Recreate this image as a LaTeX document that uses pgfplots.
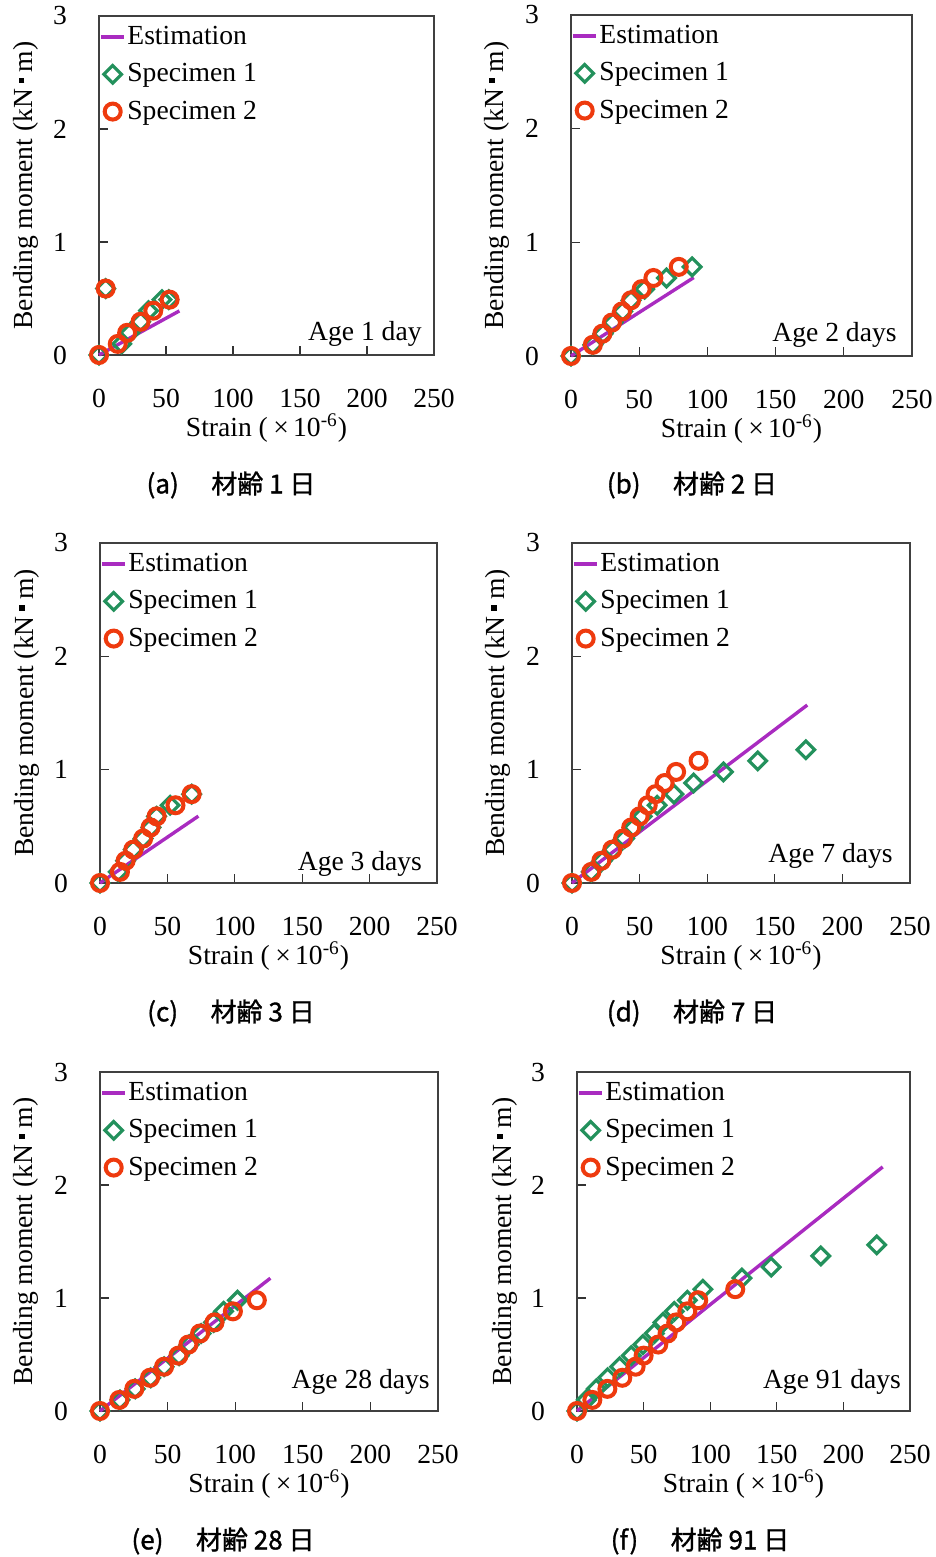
\documentclass[border=0pt]{standalone}
\usepackage{fontspec}
\setmainfont{Liberation Serif}
\newfontfamily\cjk[FakeBold=1.2]{Noto Sans CJK JP}
\usepackage{pgfplots}
\pgfplotsset{compat=1.18}
\definecolor{estc}{HTML}{A92BC0}
\definecolor{sp1c}{HTML}{23915C}
\definecolor{sp2c}{HTML}{EE3A0E}
\newcommand\fs{\fontsize{13.8pt}{16pt}\selectfont}
\newcommand\kndot{\hspace{0.2em}\rule[0.3em]{0.2em}{0.2em}\hspace{0.2em}}
\pgfplotsset{
  panel/.style={
    scale only axis, clip=false,
    xmin=0, xmax=250, ymin=0, ymax=3,
    xtick={0,50,...,250}, ytick={0,1,2,3},
    tick align=inside, xtick pos=left, ytick pos=left,
    major tick length=4.5pt,
    axis line style={draw=black!75, line width=0.6pt},
    every tick/.style={black!80, line width=0.6pt},
    /pgf/number format/assume math mode=true,
    tick label style={font=\fs},
    xticklabel style={anchor=center, yshift=-21.5pt},
    yticklabel style={anchor=center, xshift=-19.5pt},
    xlabel={Strain (\hspace{0.2em}×\hspace{0.15em}10\textsuperscript{-6})},
    ylabel={Bending moment (kN\kndot m)},
    xlabel style={font=\fs, at={(axis description cs:0.5,-0.215)}, anchor=center},
    ylabel style={font=\fs, at={(axis description cs:-0.218,0.5)}, anchor=center},
    legend cell align=left,
    legend style={at={(rel axis cs:0,1)}, anchor=north west, draw=none, fill=none,
      font=\fs, inner xsep=0pt, inner ysep=5pt, row sep=8pt, column sep=0.8pt,
      nodes={inner sep=0pt}},
  },
  est/.style={estc, line width=1.7pt, no marks,
    legend image code/.code={\draw[##1] (0.5pt,0pt) -- (12pt,0pt);}},
  sp1/.style={only marks, mark=square, mark size=3.1pt,
    mark options={rotate=45, draw=sp1c, line width=1.6pt, fill=none},
    legend image code/.code={\path (0pt,0pt) (12pt,0pt); \draw[##1] plot coordinates {(6.3pt,0pt)};}},
  sp2/.style={only marks, mark=o, mark size=4pt,
    mark options={draw=sp2c, line width=2pt, fill=none},
    legend image code/.code={\path (0pt,0pt) (12pt,0pt); \draw[##1] plot coordinates {(6.3pt,0pt)};}},
}
\newcommand\agelabel[3]{\node[anchor=base east, inner sep=0pt, font=\fs, xshift=-#1, yshift=#2] at (rel axis cs:1,0) {#3};}
\newcommand\leg{\legend{Estimation, Specimen 1, Specimen 2}}
\newcommand\subcap[3]{\node[font=\cjk\fontsize{13pt}{15pt}\selectfont] at (#1pt,#2pt) {#3};}

\begin{document}
\begin{tikzpicture}
\useasboundingbox (0pt,0pt) rectangle (468pt,778.5pt);

% (a) 1 day
\begin{axis}[panel, at={(49.5pt,601pt)}, anchor=south west, width=167.5pt, height=169.5pt]
\addplot[est] coordinates {(0,0) (60,0.39)};
\addplot[sp1] coordinates {(0,0) (5,0.588) (17,0.098) (23,0.196) (31,0.294) (37,0.392) (47,0.49) (52,0.49)};
\addplot[sp2] coordinates {(0,0) (5,0.588) (14,0.098) (21,0.196) (31,0.294) (40.5,0.392) (52.7,0.49)};
\leg
\agelabel{6pt}{7pt}{Age 1 day}
\end{axis}
\subcap{115.5}{536}{(a)\hspace{1.25em}材齢 1 日}

% (b) 2 days
\begin{axis}[panel, at={(285.5pt,600.5pt)}, anchor=south west, width=170.5pt, height=170.5pt]
\addplot[est] coordinates {(0,0) (90,0.69)};
\addplot[sp1] coordinates {(0,0) (16,0.098) (23.5,0.196) (30.8,0.294) (37.9,0.392) (44,0.49) (54,0.588) (70,0.686) (88.8,0.784)};
\addplot[sp2] coordinates {(0,0) (16,0.098) (23,0.196) (30,0.294) (37.4,0.392) (44,0.49) (51.8,0.588) (60.4,0.686) (79,0.784)};
\leg
\agelabel{7.5pt}{7pt}{Age 2 days}
\end{axis}
\subcap{346}{536}{(b)\hspace{1.25em}材齢 2 日}

% (c) 3 days
\begin{axis}[panel, at={(50pt,337pt)}, anchor=south west, width=168.5pt, height=170pt]
\addplot[est] coordinates {(0,0) (73,0.59)};
\addplot[sp1] coordinates {(0,0) (13.5,0.098) (19,0.196) (24.7,0.294) (32,0.392) (37.8,0.49) (42,0.588) (52,0.686) (68,0.784)};
\addplot[sp2] coordinates {(0,0) (14.8,0.098) (19,0.196) (24.7,0.294) (32,0.392) (37.5,0.49) (42,0.588) (56,0.686) (68,0.784)};
\leg
\agelabel{7.3pt}{6pt}{Age 3 days}
\end{axis}
\subcap{115.5}{272}{(c)\hspace{1.25em}材齢 3 日}

% (d) 7 days
\begin{axis}[panel, at={(286pt,337pt)}, anchor=south west, width=169pt, height=170pt]
\addplot[est] coordinates {(0,0) (174,1.57)};
\addplot[sp1] coordinates {(0,0) (14.3,0.098) (22.4,0.196) (30.3,0.294) (38.9,0.392) (45.6,0.49) (52,0.588) (63,0.686) (75.4,0.784) (90,0.882) (112,0.98) (137.4,1.078) (173,1.176)};
\addplot[sp2] coordinates {(0,0) (14.3,0.098) (21.7,0.196) (29.8,0.294) (37.7,0.392) (43.8,0.49) (50,0.588) (56,0.686) (61.8,0.784) (68.5,0.882) (77,0.98) (93.6,1.078)};
\leg
\agelabel{8.5pt}{10pt}{Age 7 days}
\end{axis}
\subcap{346}{272}{(d)\hspace{1.25em}材齢 7 日}

% (e) 28 days
\begin{axis}[panel, at={(50pt,73pt)}, anchor=south west, width=169pt, height=169.5pt]
\addplot[est] coordinates {(0,0) (126,1.175)};
\addplot[sp1] coordinates {(0,0) (14.8,0.098) (26,0.196) (37.5,0.294) (47.4,0.392) (58.5,0.49) (66,0.588) (74.8,0.686) (84,0.784) (91.4,0.882) (101.7,0.98)};
\addplot[sp2] coordinates {(0,0) (14.3,0.098) (25.4,0.196) (37,0.294) (47.4,0.392) (58,0.49) (65.4,0.588) (74,0.686) (84.7,0.784) (98.3,0.882) (116,0.98)};
\leg
\agelabel{4pt}{11.3pt}{Age 28 days}
\end{axis}
\subcap{111.5}{8}{(e)\hspace{1.25em}材齢 28 日}

% (f) 91 days
\begin{axis}[panel, at={(288.5pt,73pt)}, anchor=south west, width=166.5pt, height=169.5pt]
\addplot[est] coordinates {(0,0) (229.5,2.16)};
\addplot[sp1] coordinates {(0,0) (7,0.098) (14.5,0.196) (23,0.294) (32,0.392) (40.8,0.49) (49.5,0.588) (58,0.686) (64.5,0.784) (73,0.882) (82.8,0.98) (94.5,1.078) (123.8,1.176) (145.8,1.274) (183,1.372) (225,1.47)};
\addplot[sp2] coordinates {(0,0) (11.5,0.098) (22.8,0.196) (34,0.294) (44,0.392) (50,0.49) (61,0.588) (68,0.686) (74.5,0.784) (82.8,0.882) (91,0.98) (118.8,1.078)};
\leg
\agelabel{4.3pt}{11.3pt}{Age 91 days}
\end{axis}
\subcap{350}{8}{(f)\hspace{1.25em}材齢 91 日}
\end{tikzpicture}
\end{document}
